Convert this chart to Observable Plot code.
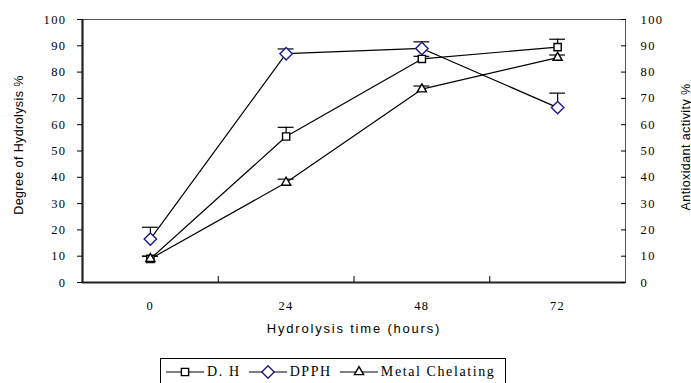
<!DOCTYPE html>
<html>
<head>
<meta charset="utf-8">
<script src="https://cdn.jsdelivr.net/npm/d3@7"></script>
<script src="https://cdn.jsdelivr.net/npm/@observablehq/plot@0.6"></script>
<style>
  html, body { margin: 0; padding: 0; background: #fff; }
  #wrap { position: relative; width: 691px; height: 383px; overflow: hidden; }
  #legend {
    position: absolute; left: 160px; top: 358px; width: 346px; height: 28px;
    border: 1px solid #000; box-sizing: border-box;
    font-family: "Liberation Serif", "Times New Roman", serif; font-size: 14px;
    letter-spacing: 1.6px; color: #000;
    display: flex; align-items: center; padding-left: 5px; white-space: nowrap;
  }
  #legend .item { display: flex; align-items: center; margin-right: 8px; }
  #legend svg { margin-right: 3px; }
  #chart svg text { font-family: "Liberation Serif", "Times New Roman", serif; font-size: 12.5px; letter-spacing: 1.4px; }
  #chart svg .ttl-y text { font-family: "Liberation Sans", Arial, sans-serif; font-size: 12.5px; letter-spacing: 0.4px; }
  #chart svg .ttl-x text { font-family: "Liberation Sans", Arial, sans-serif; font-size: 13px; letter-spacing: 1.8px; }
</style>
</head>
<body>
<div id="wrap">
  <div id="chart"></div>
  <div id="legend"></div>
</div>
<script>
// ---- data ----
const hours = [0, 24, 48, 72];
const hourLabels = ["0", "24", "48", "72"];
const dh = [9, 55.5, 85, 89.5];
const dhSd = [1, 3.5, 1, 3];
const dpph = [16.5, 87, 89, 66.5];
const dpphSd = [4.5, 1.8, 2.5, 5.5];
const metal = [9, 38, 73.5, 85.5];
const metalSd = [1, 1.3, 1.2, 1];
const yTicks = [0, 10, 20, 30, 40, 50, 60, 70, 80, 90, 100];
const seriesNames = ["D. H", "DPPH", "Metal Chelating"];

const navy = "#1a1a8c";
const seriesStyle = {
  "D. H": {symbol: "square2", r: 4.6, stroke: "#000"},
  "DPPH": {symbol: "diamond2", r: 5.6, stroke: navy},
  "Metal Chelating": {symbol: "triangle2", r: 4.4, stroke: "#000"}
};

const rows = [];
[[dh, dhSd], [dpph, dpphSd], [metal, metalSd]].forEach(([vals, sds], s) => {
  hours.forEach((h, i) => rows.push({series: seriesNames[s], hour: h, value: vals[i], sd: sds[i]}));
});
const boundaries = hours.slice(1).map((h, i) => (h + hours[i]) / 2);
const half = (hours[1] - hours[0]) / 2;
const capHalf = 1.4;

const marks = [
  Plot.frame({stroke: "#555", strokeWidth: 1}),
  // error bars (upper)
  Plot.ruleX(rows, {x: "hour", y1: "value", y2: d => d.value + d.sd, stroke: "#000", strokeWidth: 1.2}),
  Plot.ruleY(rows, {y: d => d.value + d.sd, x1: d => d.hour - capHalf, x2: d => d.hour + capHalf, stroke: "#000", strokeWidth: 1.2}),
  // lines
  Plot.line(rows, {x: "hour", y: "value", z: "series", stroke: "#000", strokeWidth: 1.2}),
  // markers
  ...seriesNames.map(name => Plot.dot(rows.filter(d => d.series === name), {
    x: "hour", y: "value", symbol: seriesStyle[name].symbol, r: seriesStyle[name].r,
    stroke: seriesStyle[name].stroke, fill: "#fff", strokeWidth: 1.4
  })),
  // thick left and bottom axes
  Plot.ruleY([0], {stroke: "#222", strokeWidth: 2.2}),
  Plot.ruleX([hours[0] - half], {stroke: "#222", strokeWidth: 2.2}),
  // left axis
  Plot.axisY({anchor: "left", ticks: yTicks, tickSize: 5, tickPadding: 11, label: null}),
  // right axis: inward ticks
  Plot.axisY({anchor: "right", ticks: yTicks, tickSize: -5, text: null, label: null}),
  Plot.axisY({anchor: "right", ticks: yTicks, tickSize: 0, tickPadding: 15, label: null}),
  // bottom axis
  Plot.axisX({anchor: "bottom", ticks: boundaries, tickSize: -6, text: null, label: null}),
  Plot.axisX({anchor: "bottom", ticks: hours, tickSize: 0, tickPadding: 19, label: null,
    tickFormat: (d, i) => hourLabels[i]}),
  // axis titles
  Plot.text(["Degree of Hydrolysis %"], {frameAnchor: "left", textAnchor: "middle", rotate: -90, dx: -64, dy: -6, className: "ttl-y"}),
  Plot.text(["Antioxidant activity %"], {frameAnchor: "right", textAnchor: "middle", rotate: -90, dx: 60, dy: -4, className: "ttl-y"}),
  Plot.text(["Hydrolysis time (hours)"], {frameAnchor: "bottom", dy: 50, className: "ttl-x"})
];

const chart = Plot.plot({
  width: 691,
  height: 345,
  marginLeft: 82,
  marginRight: 66,
  marginTop: 19,
  marginBottom: 63,
  style: {background: "#fff", color: "#000", overflow: "visible"},
  x: {type: "linear", domain: [hours[0] - half, hours[hours.length - 1] + half], axis: null},
  y: {domain: [0, 100], axis: null},
  marks
});
document.getElementById("chart").appendChild(chart);

// legend
const legend = document.getElementById("legend");
seriesNames.forEach(name => {
  const st = seriesStyle[name];
  const item = document.createElement("div");
  item.className = "item";
  const sw = d3.create("svg").attr("width", 38).attr("height", 14);
  sw.append("line").attr("x1", 0).attr("x2", 38).attr("y1", 7).attr("y2", 7).attr("stroke", "#000").attr("stroke-width", 1.2);
  const symMap = {square2: d3.symbolSquare2, diamond2: d3.symbolDiamond2, triangle2: d3.symbolTriangle2};
  sw.append("path").attr("transform", "translate(19,7)")
    .attr("d", d3.symbol(symMap[st.symbol], st.r * st.r * Math.PI)())
    .attr("fill", "#fff").attr("stroke", st.stroke).attr("stroke-width", 1.4);
  item.appendChild(sw.node());
  const t = document.createElement("span");
  t.textContent = name;
  item.appendChild(t);
  legend.appendChild(item);
});
</script>
</body>
</html>
